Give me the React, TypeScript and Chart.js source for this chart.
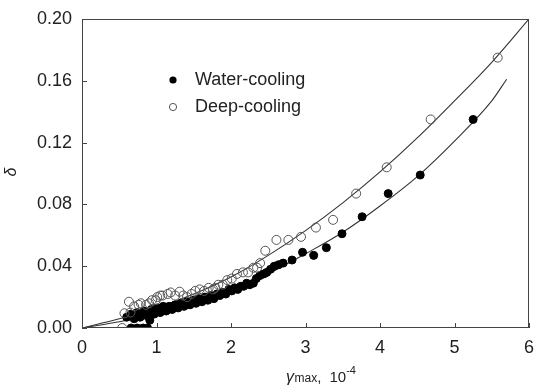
import React, { useEffect, useRef } from "react";
import { Chart, registerables } from "chart.js";
Chart.register(...registerables);

// ---- data ----
const seriesNames = ["Water-cooling", "Deep-cooling"];

const waterX = [0.66, 0.74, 0.82, 0.88, 0.60, 0.66, 0.70, 0.74, 0.78, 0.83, 0.87, 0.91, 0.93, 0.97, 1.01, 1.05, 1.09, 1.13, 1.17, 1.21, 1.25, 1.29, 1.33, 1.37, 1.41, 1.45, 1.49, 1.53, 1.57, 1.61, 1.65, 1.69, 1.73, 1.77, 1.81, 1.85, 1.89, 1.93, 1.97, 2.01, 2.05, 2.09, 2.13, 2.17, 2.21, 2.25, 2.30, 2.34, 2.39, 2.44, 2.48, 2.53, 2.58, 2.64, 2.70, 2.82, 2.96, 3.11, 3.28, 3.49, 3.76, 4.11, 4.54, 5.25];
const waterY = [0, 0, 0, 0, 0.007, 0.009, 0.006, 0.010, 0.007, 0.011, 0.008, 0.005, 0.012, 0.009, 0.013, 0.010, 0.014, 0.011, 0.014, 0.012, 0.015, 0.013, 0.016, 0.014, 0.017, 0.015, 0.018, 0.016, 0.019, 0.017, 0.020, 0.018, 0.021, 0.019, 0.022, 0.021, 0.023, 0.022, 0.025, 0.024, 0.026, 0.025, 0.027, 0.027, 0.029, 0.028, 0.029, 0.032, 0.034, 0.035, 0.036, 0.038, 0.040, 0.041, 0.042, 0.044, 0.049, 0.047, 0.052, 0.061, 0.072, 0.087, 0.099, 0.135];

const deepX = [0.54, 0.57, 0.63, 0.65, 0.70, 0.76, 0.79, 0.86, 0.90, 0.94, 0.99, 1.01, 1.05, 1.08, 1.15, 1.19, 1.25, 1.31, 1.36, 1.41, 1.47, 1.52, 1.58, 1.64, 1.70, 1.76, 1.79, 1.83, 1.89, 1.95, 2.01, 2.08, 2.16, 2.23, 2.30, 2.35, 2.39, 2.46, 2.61, 2.77, 2.94, 3.14, 3.37, 3.68, 4.09, 4.68, 5.58];
const deepY = [0, 0.0095, 0.017, 0.010, 0.014, 0.015, 0.016, 0.015, 0.016, 0.018, 0.018, 0.020, 0.021, 0.021, 0.022, 0.023, 0.021, 0.0235, 0.021, 0.020, 0.022, 0.024, 0.025, 0.024, 0.026, 0.025, 0.026, 0.028, 0.028, 0.031, 0.032, 0.035, 0.036, 0.036, 0.039, 0.039, 0.042, 0.050, 0.057, 0.057, 0.059, 0.065, 0.070, 0.087, 0.104, 0.135, 0.175];

// fitted curves
const fitDeepX = [0, 0.5, 1, 1.5, 2, 2.5, 3, 3.5, 4, 4.5, 5, 5.5, 6];
const fitDeepY = [0, 0.006, 0.013, 0.022, 0.033, 0.047, 0.063, 0.081, 0.101, 0.123, 0.147, 0.172, 0.2];
const fitWaterX = [0, 0.5, 1, 1.5, 2, 2.5, 3, 3.5, 4, 4.5, 5, 5.5, 5.7];
const fitWaterY = [0, 0.004, 0.009, 0.015, 0.023, 0.035, 0.048, 0.062, 0.079, 0.098, 0.121, 0.147, 0.161];

const xMin = 0, xMax = 6, xStep = 1;
const yMin = 0, yMax = 0.2, yStep = 0.04;

const FONT = "'Liberation Sans', Arial, sans-serif";
const TEXT = "#222";

const zip = (xs: number[], ys: number[]) => xs.map((x, i) => ({ x, y: ys[i] }));

const decorPlugin = {
  id: "decor",
  afterDraw(chart: any) {
    const { ctx, chartArea: a, scales } = chart;
    const xs = scales.x, ys = scales.y;
    ctx.save();
    // frame
    ctx.strokeStyle = "#444";
    ctx.lineWidth = 1;
    ctx.strokeRect(a.left + 0.5, a.top + 0.5, a.right - a.left - 1, a.bottom - a.top - 1);
    // inward ticks
    ctx.beginPath();
    xs.ticks.forEach((t: any) => {
      const px = Math.round(xs.getPixelForValue(t.value)) + 0.5;
      ctx.moveTo(px, a.bottom);
      ctx.lineTo(px, a.bottom - 5);
    });
    ys.ticks.forEach((t: any) => {
      const py = Math.round(ys.getPixelForValue(t.value)) + 0.5;
      ctx.moveTo(a.left, py);
      ctx.lineTo(a.left + 5, py);
    });
    ctx.stroke();

    // y title
    ctx.fillStyle = TEXT;
    ctx.save();
    ctx.translate(12, 172);
    ctx.rotate(-Math.PI / 2);
    ctx.font = `italic 16px ${FONT}`;
    ctx.textAlign = "center";
    ctx.textBaseline = "middle";
    ctx.fillText("δ", 0, 0);
    ctx.restore();

    // x title: γmax, 10^-4
    const base = 382;
    let cx = 286;
    ctx.textBaseline = "alphabetic";
    ctx.textAlign = "left";
    ctx.font = `italic 16px ${FONT}`;
    ctx.fillText("γ", cx, base);
    cx += ctx.measureText("γ").width + 0.5;
    ctx.font = `12px ${FONT}`;
    ctx.fillText("max", cx, base);
    cx += ctx.measureText("max").width;
    ctx.font = `15px ${FONT}`;
    ctx.fillText(", ", cx, base);
    cx += ctx.measureText(", ").width + 4;
    ctx.fillText("10", cx, base);
    cx += ctx.measureText("10").width;
    ctx.font = `11px ${FONT}`;
    ctx.fillText("-4", cx, base - 8);

    // legend
    const lx = 173;
    const rows = [80, 107];
    ctx.fillStyle = "#000";
    ctx.beginPath();
    ctx.arc(lx, rows[0], 3.6, 0, Math.PI * 2);
    ctx.fill();
    ctx.strokeStyle = "#555";
    ctx.beginPath();
    ctx.arc(lx, rows[1], 3.6, 0, Math.PI * 2);
    ctx.stroke();
    ctx.fillStyle = TEXT;
    ctx.font = `18px ${FONT}`;
    ctx.textBaseline = "middle";
    ctx.fillText(seriesNames[0], 195, rows[0]);
    ctx.fillText(seriesNames[1], 195, rows[1]);
    ctx.restore();
  },
};

export default function App() {
  const ref = useRef<HTMLCanvasElement | null>(null);
  useEffect(() => {
    document.body.style.margin = "0";
    const canvas = ref.current!;
    const chart = new Chart(canvas, {
      type: "scatter",
      data: {
        datasets: [
          {
            label: "fit-deep",
            type: "line",
            data: zip(fitDeepX, fitDeepY),
            borderColor: "#333",
            borderWidth: 1.1,
            pointRadius: 0,
            cubicInterpolationMode: "monotone",
            fill: false,
            order: 3,
          },
          {
            label: "fit-water",
            type: "line",
            data: zip(fitWaterX, fitWaterY),
            borderColor: "#333",
            borderWidth: 1.1,
            pointRadius: 0,
            cubicInterpolationMode: "monotone",
            fill: false,
            order: 3,
          },
          {
            label: seriesNames[0],
            data: zip(waterX, waterY),
            backgroundColor: "#000",
            borderColor: "#000",
            borderWidth: 1,
            pointRadius: 4,
            order: 2,
          },
          {
            label: seriesNames[1],
            data: zip(deepX, deepY),
            backgroundColor: "rgba(255,255,255,0)",
            borderColor: "#555",
            borderWidth: 1,
            pointRadius: 4.5,
            order: 1,
          },
        ],
      } as any,
      options: {
        responsive: false,
        animation: false,
        events: [],
        layout: { padding: { left: 0, top: 19, right: 7, bottom: 0 } },
        plugins: { legend: { display: false }, tooltip: { enabled: false } },
        scales: {
          x: {
            type: "linear",
            min: xMin,
            max: xMax,
            border: { display: false },
            grid: { display: false, drawTicks: false },
            ticks: {
              stepSize: xStep,
              padding: 9,
              color: TEXT,
              font: { family: FONT, size: 18 },
              maxRotation: 0,
            },
            afterFit: (s: any) => {
              s.height = 61;
              s.paddingLeft = 0;
              s.paddingRight = 0;
            },
          },
          y: {
            type: "linear",
            min: yMin,
            max: yMax,
            border: { display: false },
            grid: { display: false, drawTicks: false },
            ticks: {
              stepSize: yStep,
              padding: 10,
              color: TEXT,
              font: { family: FONT, size: 18 },
              callback: (v: any) => Number(v).toFixed(2),
            },
            afterFit: (s: any) => {
              s.width = 82;
              s.paddingTop = 0;
              s.paddingBottom = 0;
            },
          },
        },
      } as any,
      plugins: [decorPlugin],
    });
    return () => chart.destroy();
  }, []);
  return <canvas ref={ref} width={536} height={389} style={{ display: "block" }} />;
}
